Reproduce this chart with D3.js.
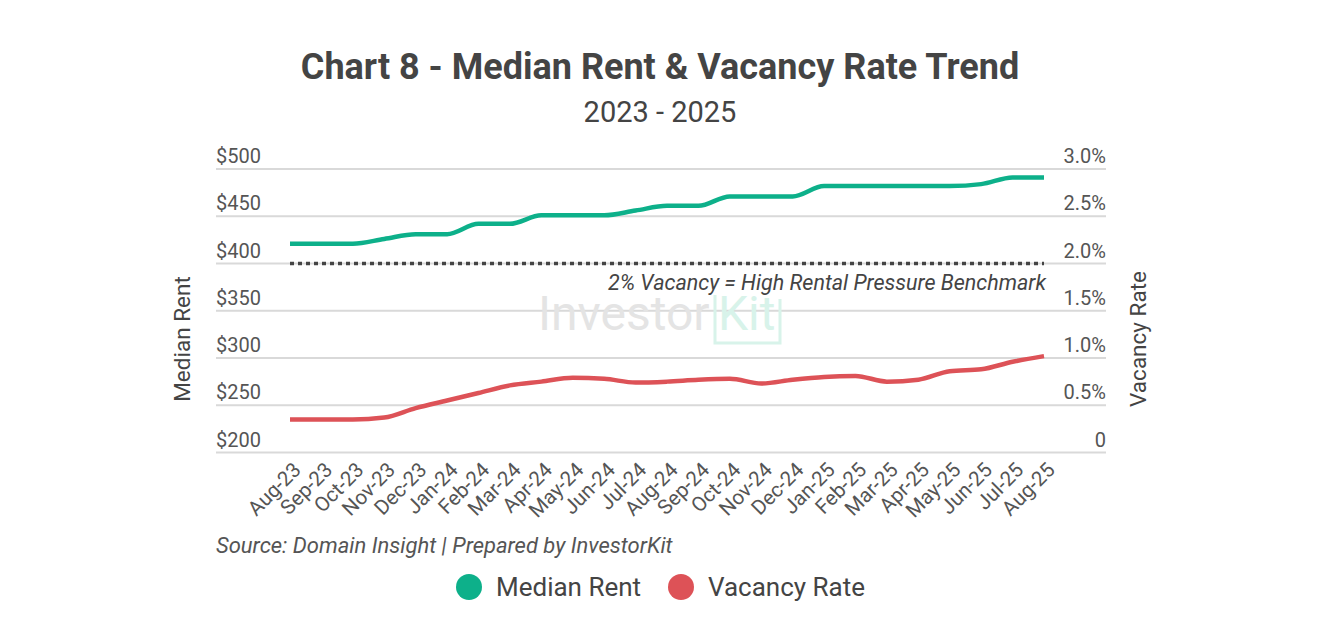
<!DOCTYPE html>
<html>
<head>
<meta charset="utf-8">
<script src="https://cdn.jsdelivr.net/npm/d3@7"></script>
<style>
  body { margin: 0; background: #fff; }
  text { font-family: Roboto, "Noto Sans", sans-serif; fill: #444; }
</style>
</head>
<body>
<div id="chart"></div>
<script>
var months = ["Aug-23","Sep-23","Oct-23","Nov-23","Dec-23","Jan-24","Feb-24","Mar-24","Apr-24","May-24","Jun-24","Jul-24",
  "Aug-24","Sep-24","Oct-24","Nov-24","Dec-24","Jan-25","Feb-25","Mar-25","Apr-25","May-25","Jun-25","Jul-25","Aug-25"];
var medianRent = [421,421,421,426,431,431,442,442,451,451,451,456,461,461,471,471,471,482,482,482,482,482,484,491,491];
var vacancyRate = [0.35,0.35,0.35,0.37,0.47,0.55,0.63,0.71,0.75,0.79,0.78,0.74,0.75,0.77,0.78,0.73,0.77,0.80,0.81,0.75,0.77,0.86,0.88,0.96,1.02];
var rentTicks = [200,250,300,350,400,450,500];
var rateTicks = [0,0.5,1,1.5,2,2.5,3];
var benchmark = 2;

var W = 1320, H = 640;
var plotLeft = 216, plotRight = 1106, plotTop = 169, plotBottom = 452.5;
var green = "#0db08a", red = "#dd5257";

var svg = d3.select("#chart").append("svg").attr("width", W).attr("height", H);

var x = d3.scalePoint().domain(months).range([290, 1044]);
var yL = d3.scaleLinear().domain([200, 500]).range([plotBottom, plotTop]);
var yR = d3.scaleLinear().domain([0, 3]).range([plotBottom, plotTop]);

// title
svg.append("text").attr("x", 660).attr("y", 79).attr("text-anchor", "middle")
  .style("font-size", "36px").style("font-weight", "bold").text("Chart 8 - Median Rent & Vacancy Rate Trend");
svg.append("text").attr("x", 660).attr("y", 122).attr("text-anchor", "middle")
  .style("font-size", "29px").text("2023 - 2025");

// gridlines
svg.selectAll(".grid").data(rentTicks).enter().append("line")
  .attr("x1", plotLeft).attr("x2", plotRight)
  .attr("y1", function (d) { return yL(d); }).attr("y2", function (d) { return yL(d); })
  .attr("stroke", "#d9d9d9").attr("stroke-width", 2);

// watermark
var wm = svg.append("g");
wm.append("text").attr("x", 538).attr("y", 330).style("font-size", "48px")
  .style("fill", "#e4e4e4").text("Investor");
wm.append("text").attr("x", 718).attr("y", 330).style("font-size", "48px")
  .style("fill", "#d8f3ea").text("Kit");
wm.append("path").attr("d", "M715,295 V343 H780 V299").attr("fill", "none")
  .attr("stroke", "#d8f3ea").attr("stroke-width", 3);

// left axis labels
svg.selectAll(".yl").data(rentTicks).enter().append("text")
  .attr("x", plotLeft).attr("y", function (d) { return yL(d) - 6; })
  .style("font-size", "20px").style("fill", "#555")
  .text(function (d) { return "$" + d; });

// right axis labels
svg.selectAll(".yr").data(rateTicks).enter().append("text")
  .attr("x", plotRight).attr("y", function (d) { return yR(d) - 6; })
  .attr("text-anchor", "end").style("font-size", "20px").style("fill", "#555")
  .text(function (d) { return d === 0 ? "0" : d.toFixed(1) + "%"; });

// axis titles
svg.append("text").attr("transform", "translate(190,339) rotate(-90)").attr("text-anchor", "middle")
  .style("font-size", "22.5px").text("Median Rent");
svg.append("text").attr("transform", "translate(1146,339) rotate(-90)").attr("text-anchor", "middle")
  .style("font-size", "22.5px").text("Vacancy Rate");

// x labels
svg.selectAll(".xl").data(months).enter().append("text")
  .attr("transform", function (d) { return "translate(" + (x(d) + 2) + ",461) rotate(-45)"; })
  .attr("text-anchor", "end").attr("dy", "0.7em").style("font-size", "20.5px").style("fill", "#555")
  .text(function (d) { return d; });

// benchmark
svg.append("line").attr("x1", x(months[0])).attr("x2", x(months[months.length - 1]))
  .attr("y1", yR(benchmark)).attr("y2", yR(benchmark))
  .attr("stroke", "#444").attr("stroke-width", 3.5).attr("stroke-dasharray", "4,4");
svg.append("text").attr("x", x(months[months.length - 1]) + 2).attr("y", yR(benchmark) + 26)
  .attr("text-anchor", "end").style("font-size", "21.5px").style("font-style", "italic")
  .text("2% Vacancy = High Rental Pressure Benchmark");

// lines
var rentLine = d3.line().x(function (d, i) { return x(months[i]); }).y(function (d) { return yL(d); })
  .curve(d3.curveMonotoneX);
var rateLine = d3.line().x(function (d, i) { return x(months[i]); }).y(function (d) { return yR(d); })
  .curve(d3.curveMonotoneX);
svg.append("path").datum(medianRent).attr("d", rentLine).attr("fill", "none")
  .attr("stroke", green).attr("stroke-width", 4.5);
svg.append("path").datum(vacancyRate).attr("d", rateLine).attr("fill", "none")
  .attr("stroke", red).attr("stroke-width", 4.5);

// source
svg.append("text").attr("x", plotLeft).attr("y", 553).style("font-size", "22px")
  .style("font-style", "italic").style("fill", "#555")
  .text("Source: Domain Insight | Prepared by InvestorKit");

// legend
var legend = [{name: "Median Rent", color: green, x: 469}, {name: "Vacancy Rate", color: red, x: 681}];
var lg = svg.selectAll(".lg").data(legend).enter().append("g");
lg.append("circle").attr("cx", function (d) { return d.x; }).attr("cy", 587).attr("r", 13)
  .attr("fill", function (d) { return d.color; });
lg.append("text").attr("x", function (d) { return d.x + 27; }).attr("y", 596)
  .style("font-size", "26px").text(function (d) { return d.name; });
</script>
</body>
</html>
